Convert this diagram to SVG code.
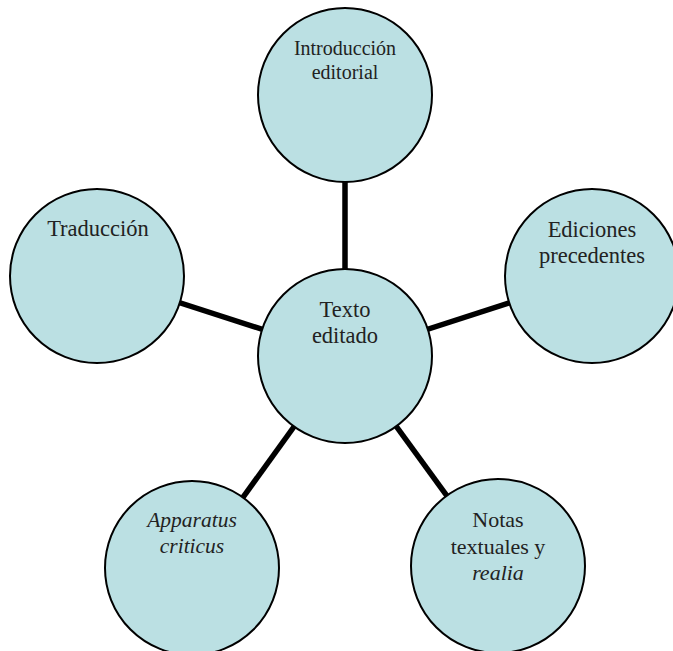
<svg xmlns="http://www.w3.org/2000/svg" width="673" height="651" viewBox="0 0 673 651">
<style>
.node{fill:#bbe0e3;stroke:#000;stroke-width:2}
.lbl{font-family:"Liberation Serif","Times New Roman",serif;fill:#222;text-anchor:middle}
.it{font-style:italic}
.conn line{stroke:#000;stroke-width:5.5}
</style>
<rect width="673" height="651" fill="#fff"/>
<g id="connectors" class="conn">
<line x1="345" y1="356" x2="345" y2="95"/>
<line x1="345" y1="356" x2="97" y2="276"/>
<line x1="345" y1="356" x2="592" y2="276"/>
<line x1="345" y1="356" x2="192" y2="568"/>
<line x1="345" y1="356" x2="498" y2="566"/>
</g>
<g id="n-intro">
<circle class="node" cx="345" cy="95" r="87"/>
<text class="lbl" font-size="20" x="345" y="55">Introducción</text>
<text class="lbl" font-size="20" x="345" y="79">editorial</text>
</g>
<g id="n-center">
<circle class="node" cx="345" cy="356" r="87"/>
<text class="lbl" font-size="22.5" x="345" y="317">Texto</text>
<text class="lbl" font-size="22.5" x="345" y="343">editado</text>
</g>
<g id="n-trad">
<circle class="node" cx="97" cy="276" r="87"/>
<text class="lbl" font-size="22.5" x="98" y="236">Traducción</text>
</g>
<g id="n-ediciones">
<circle class="node" cx="592" cy="276" r="87"/>
<text class="lbl" font-size="22.5" x="592" y="237">Ediciones</text>
<text class="lbl" font-size="22.5" x="592" y="263">precedentes</text>
</g>
<g id="n-apparatus">
<circle class="node" cx="192" cy="568" r="87"/>
<text class="lbl it" font-size="21.5" x="192" y="527">Apparatus</text>
<text class="lbl it" font-size="21.5" x="192" y="553">criticus</text>
</g>
<g id="n-notas">
<circle class="node" cx="498" cy="566" r="87"/>
<text class="lbl" font-size="22" x="498" y="527">Notas</text>
<text class="lbl" font-size="22" x="498" y="554">textuales y</text>
<text class="lbl it" font-size="22" x="498" y="580">realia</text>
</g>
</svg>
